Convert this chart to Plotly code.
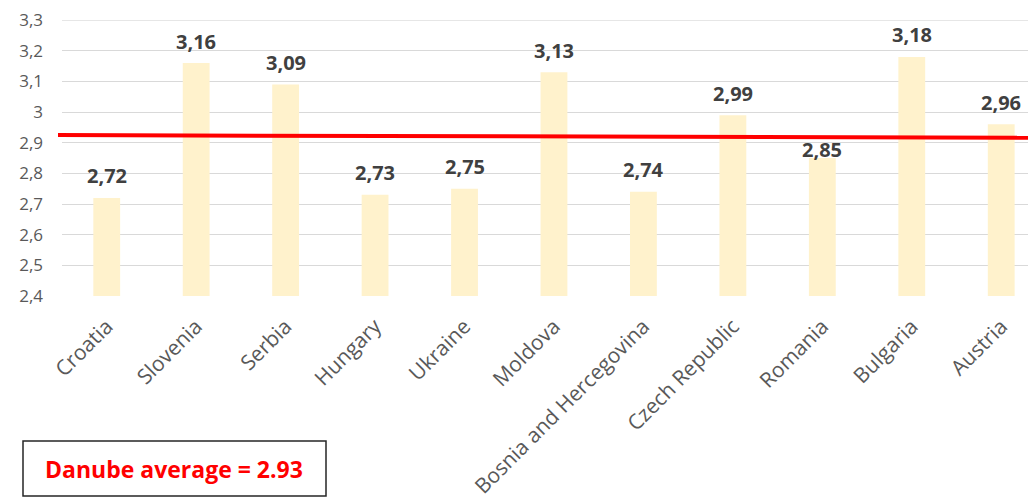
import plotly.graph_objects as go

countries = ["Croatia", "Slovenia", "Serbia", "Hungary", "Ukraine", "Moldova",
             "Bosnia and Hercegovina", "Czech Republic", "Romania", "Bulgaria", "Austria"]
scores = [2.72, 3.16, 3.09, 2.73, 2.75, 3.13, 2.74, 2.99, 2.85, 3.18, 2.96]
label_shift = [22, 22, 22, 22, 22, 22, 22, 22, 9, 22, 22]
y_ticks = [2.4, 2.5, 2.6, 2.7, 2.8, 2.9, 3.0, 3.1, 3.2, 3.3]
y_tick_text = ["2,4", "2,5", "2,6", "2,7", "2,8", "2,9", "3", "3,1", "3,2", "3,3"]
danube_average = 2.93
avg_text = "Danube average = 2.93"

# plot geometry (figure pixels; the page adds an 8px body margin)
L, T, PW, PH = 54, 12, 982, 276
def px(x):
    return (x - L) / PW
def py(y):
    return (T + PH - y) / PH

fig = go.Figure()
fig.add_trace(go.Bar(
    x=countries, y=[s - 2.4 for s in scores], base=2.4,
    marker=dict(color="#FFF2CC", line=dict(width=0)),
    width=0.30, hoverinfo="skip",
))

annotations = []
for c, s, sh in zip(countries, scores, label_shift):
    annotations.append(dict(
        x=c, y=s, xref="x", yref="y", text=f"{s:.2f}".replace(".", ","),
        showarrow=False, yshift=sh, xanchor="center", yanchor="middle",
        font=dict(family="Open Sans", size=20, color="#404040", weight="bold"),
    ))

annotations.append(dict(
    x=px(166), y=py(461), xref="paper", yref="paper",
    text=avg_text, showarrow=False, xanchor="center", yanchor="middle",
    font=dict(family="Open Sans", size=23, color="#FF0000", weight="bold"),
))

shapes = [
    # top gridline (plotly drops the gridline at the exact range edge)
    dict(type="line", xref="paper", yref="y", x0=0, x1=1, y0=y_ticks[-1], y1=y_ticks[-1],
         line=dict(color="#D9D9D9", width=1), layer="below"),
    dict(type="line", xref="paper", yref="y", x0=px(50), x1=1.0,
         y0=danube_average - 0.005, y1=danube_average - 0.014,
         line=dict(color="#FF0000", width=4)),
    dict(type="rect", xref="paper", yref="paper",
         x0=px(15), x1=px(318), y0=py(488), y1=py(433),
         line=dict(color="#262626", width=1.5), fillcolor="rgba(0,0,0,0)"),
]

fig.update_layout(
    width=1036, height=502,
    margin=dict(l=L, r=1036 - L - PW, t=T, b=502 - T - PH, autoexpand=False),
    paper_bgcolor="white", plot_bgcolor="white",
    showlegend=False, bargap=0.7,
    annotations=annotations, shapes=shapes,
    xaxis=dict(range=[-0.5, -0.5 + PW / 89.45], tickangle=-45, showgrid=False,
               tickfont=dict(family="Open Sans", size=21, color="#595959"),
               ticks="", ticklabelstandoff=13, showline=False, zeroline=False,
               automargin=False),
    yaxis=dict(range=[2.4, 3.3005], tickvals=y_ticks, ticktext=y_tick_text,
               showgrid=True, gridcolor="#D9D9D9", gridwidth=1,
               tickfont=dict(family="Open Sans", size=17, color="#595959"),
               ticks="", ticklabelstandoff=18, zeroline=False, showline=False,
               automargin=False, ticklabeloverflow="allow"),
)

fig.write_html("out.html")
